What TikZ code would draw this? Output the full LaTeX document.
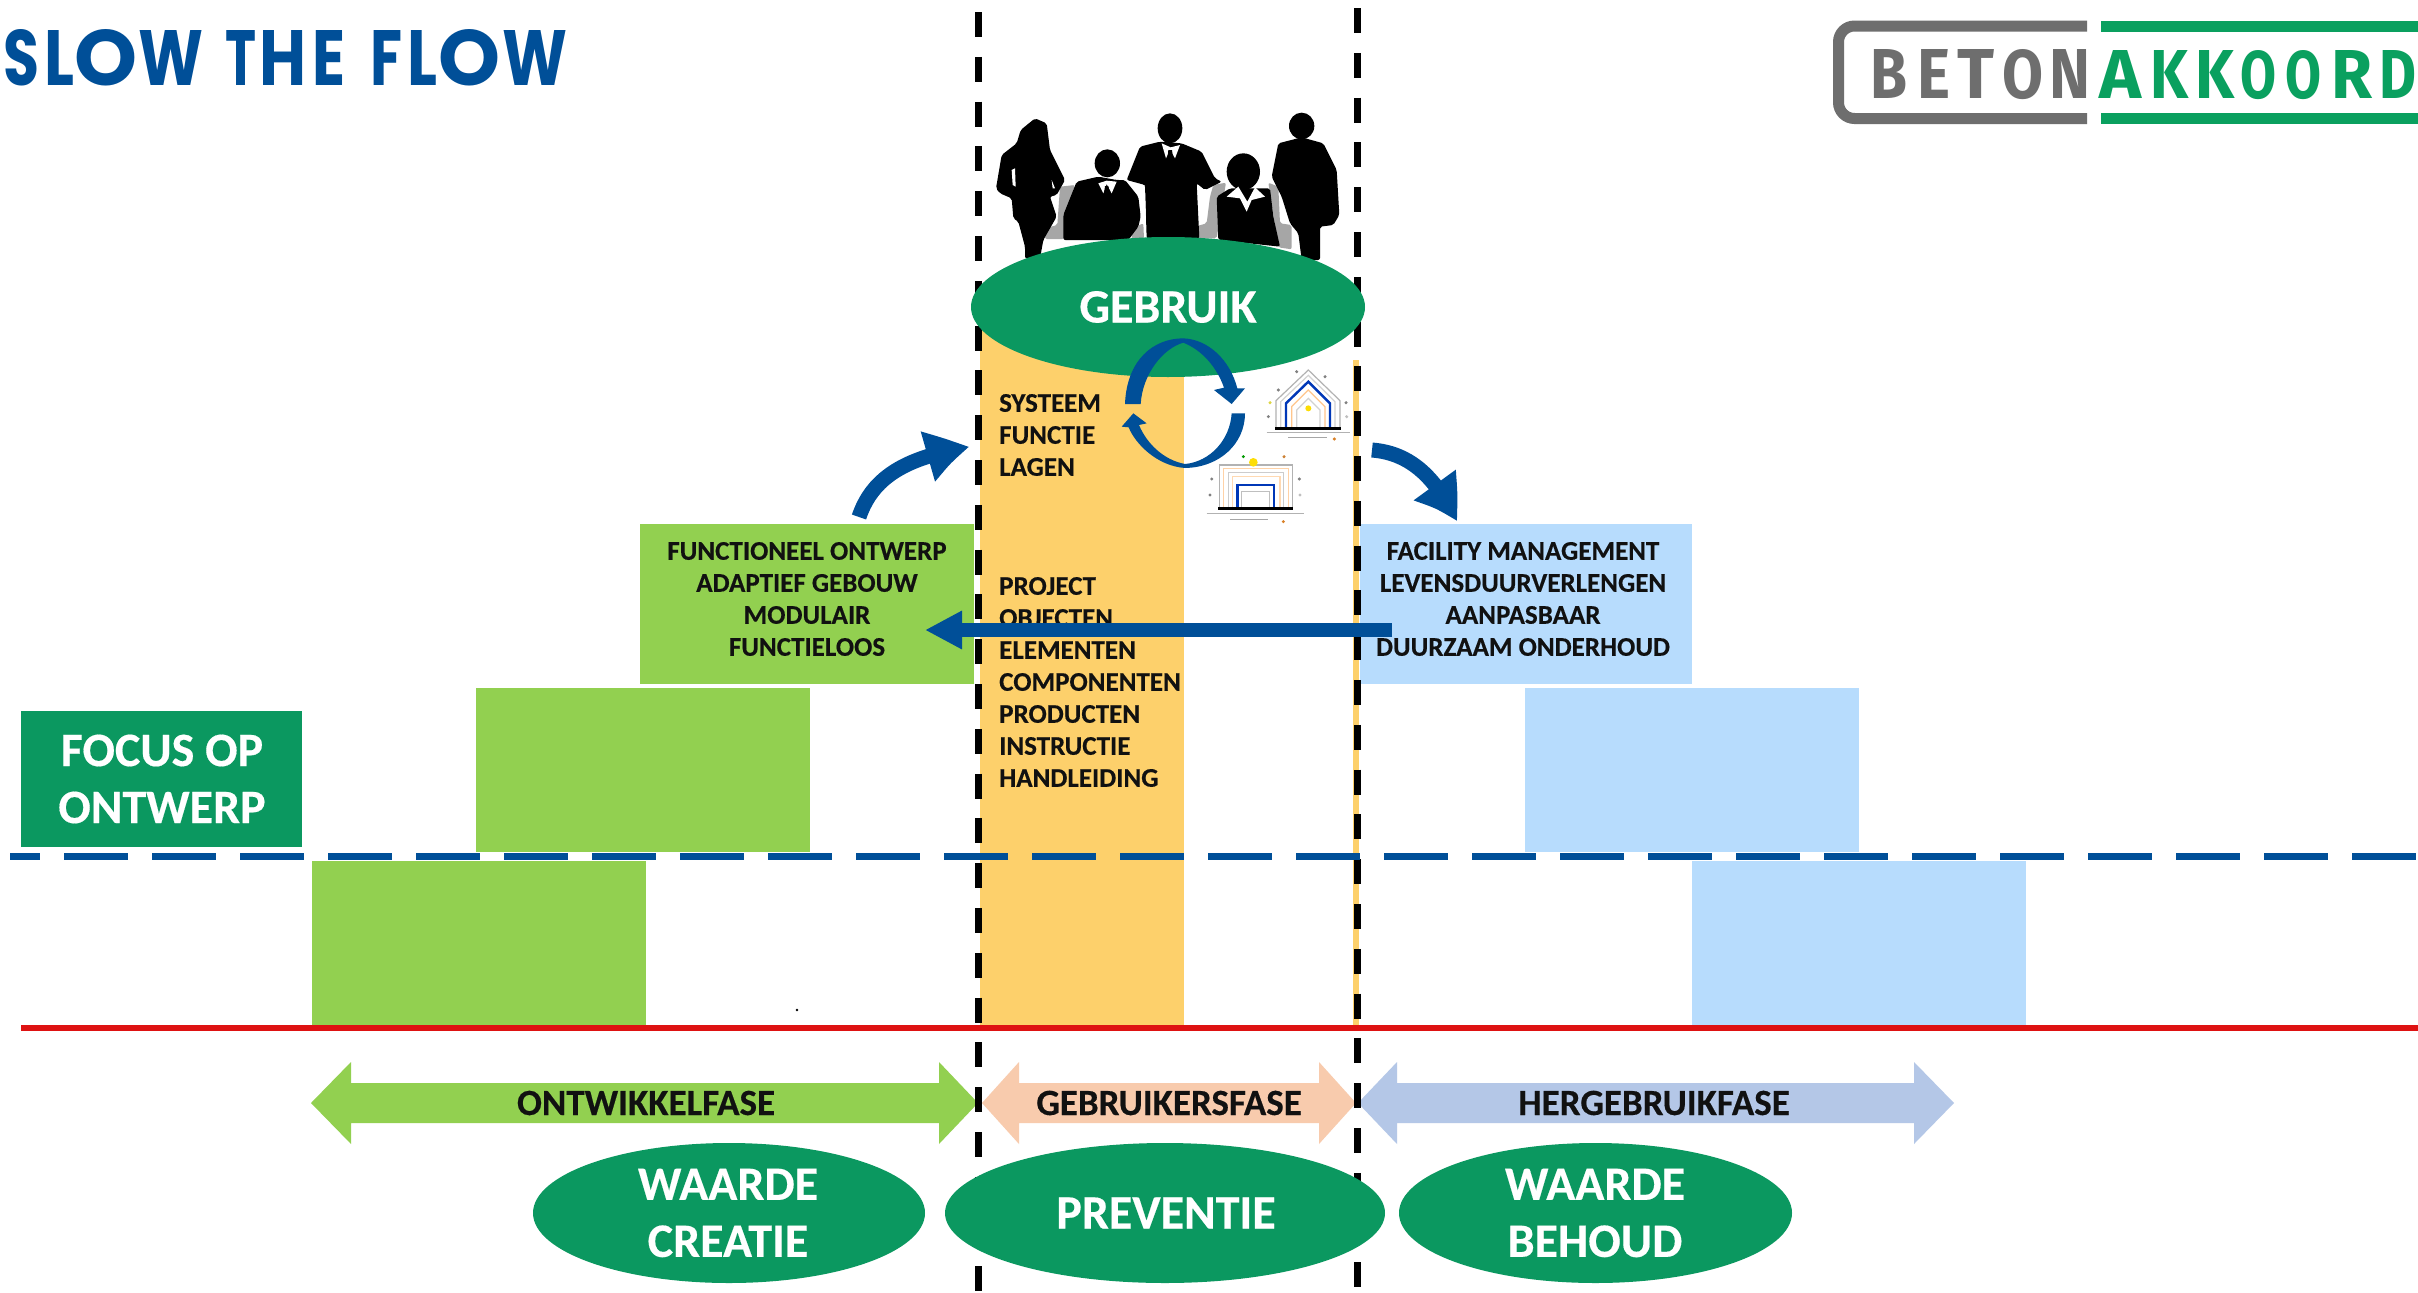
\documentclass[tikz,border=0pt]{standalone}
\usepackage{fontspec}
\setmainfont{Carlito}[BoldFeatures={FakeBold=0.35}]
\newfontfamily\titlefont{Poppins}
\newfontfamily\logofont{Fira Sans}
\usetikzlibrary{arrows.meta,bending,shapes.geometric,calc}
\definecolor{gbox}{HTML}{92D050}
\definecolor{bbox}{HTML}{B7DCFD}
\definecolor{oband}{HTML}{FDD06B}
\definecolor{dgreen}{HTML}{0B9860}
\definecolor{navy}{HTML}{004F98}
\definecolor{logogrey}{HTML}{6E6E6E}
\definecolor{logogreen}{HTML}{0AA05F}
\definecolor{redline}{HTML}{DE1212}
\definecolor{peach}{HTML}{F8CBAD}
\definecolor{lblue}{HTML}{B4C7E7}
\definecolor{inktext}{HTML}{111111}
\newcommand{\glyphbox}[3]{\resizebox{#1pt}{#2pt}{#3}}
\newcommand{\gp}[1]{\hspace*{#1pt}}
\tikzset{
  block/.style={inner sep=0pt,outer sep=0pt,minimum width=334pt},
  greenblock/.style={block,fill=gbox},
  blueblock/.style={block,fill=bbox},
  smalltxt/.style={inner sep=0pt,text=inktext,font=\bfseries\fontsize{27}{32}\selectfont},
  phasetxt/.style={inner sep=0pt,text=inktext,font=\bfseries\fontsize{37}{40}\selectfont},
  bigtxt/.style={inner sep=0pt,text=white,align=center,font=\bfseries\fontsize{48}{57}\selectfont},
  oval/.style={ellipse,fill=dgreen,inner sep=0pt,outer sep=0pt},
  vdash/.style={line width=7pt,black,dash pattern=on 25pt off 19.8pt},
  hdash/.style={line width=7pt,navy,dash pattern=on 64pt off 24pt,dash phase=34pt},
  fatarrow/.style={navy,line width=15pt,-{Triangle[length=46pt,width=47pt,bend]}},
  straightarrow/.style={navy,line width=14pt,-{Triangle[length=37pt,width=36pt]}},
  ring/.style={draw=#1,line width=1.2pt,fill=none},
  sil/.style={fill=black,rounded corners=2pt},
  chair/.style={fill=gray!70,rounded corners=2pt},
}
\begin{document}
\begin{tikzpicture}[x=1pt,y=-1pt]
\useasboundingbox (0,0) rectangle (2418,1293);
\fill[white] (0,0) rectangle (2418,1293);

% title
\node[anchor=base west,inner sep=0pt,text=navy,font=\titlefont\bfseries] (title) at (3,85)
  {\glyphbox{36}{56}{S}\gp{5}\glyphbox{30}{55}{L}\gp{0}\glyphbox{63}{56}{O}\gp{1}\glyphbox{65}{55}{W}\gp{22}\glyphbox{31}{55}{T}\gp{3}\glyphbox{47}{55}{H}\gp{6}\glyphbox{33}{55}{E}\gp{25}\glyphbox{32}{55}{F}\gp{5}\glyphbox{30}{55}{L}\gp{1}\glyphbox{62}{56}{O}\gp{2}\glyphbox{65}{55}{W}};

% logo
\draw[logogrey,line width=11pt,rounded corners=16pt] (2087,26) -- (1838.5,26) -- (1838.5,118.5) -- (2087,118.5);
\fill[logogreen] (2101,20.5) rectangle (2418,31.5);
\fill[logogreen] (2101,113) rectangle (2418,124);
\node[anchor=base west,inner sep=0pt,text=logogrey,font=\logofont\bfseries] (beton) at (1870,98)
  {\glyphbox{37}{49}{B}\gp{10}\glyphbox{33}{49}{E}\gp{7}\glyphbox{37}{49}{T}\gp{8}\glyphbox{41}{49}{O}\gp{6}\glyphbox{41}{49}{N}};
\node[anchor=base west,inner sep=0pt,text=logogreen,font=\logofont\bfseries] (akkoord) at (2099,98)
  {\glyphbox{42}{48}{A}\gp{9}\glyphbox{38}{48}{K}\gp{7}\glyphbox{39}{48}{K}\gp{6}\glyphbox{36}{48}{O}\gp{9}\glyphbox{36}{48}{O}\gp{10}\glyphbox{41}{48}{R}\gp{7}\glyphbox{37}{48}{D}};

% bands
\fill[oband] (980,290) rectangle (1184,1026);
\fill[oband] (1353,360) rectangle (1359,1026);

% blocks
\node[greenblock,minimum height=160pt] (g1) at (807,604) {};
\node[greenblock,minimum height=164pt] (g2) at (643,770) {};
\node[greenblock,minimum height=164pt] (g3) at (479,943) {};
\node[blueblock,minimum height=160pt,minimum width=332pt] (b1) at (1526,604) {};
\node[blueblock,minimum height=164pt] (b2) at (1691.5,770) {};
\node[blueblock,minimum height=164pt] (b3) at (1858.5,943) {};

% separators
\draw[vdash] (978,12) -- (978,1293);
\draw[vdash] (1357,8) -- (1357,1293);
\draw[hdash] (10,856) -- (2418,856);
\draw[redline,line width=6pt] (21,1028) -- (2418,1028);
\fill[black] (797,1010) circle (1.3pt);

% block texts
\node[smalltxt,align=center] (t1) at (807,599) {FUNCTIONEEL ONTWERP\\ADAPTIEF GEBOUW\\MODULAIR\\FUNCTIELOOS};
\node[smalltxt,align=center] (t2) at (1523,599) {FACILITY MANAGEMENT\\LEVENSDUURVERLENGEN\\AANPASBAAR\\DUURZAAM ONDERHOUD};
\node[smalltxt,align=left,anchor=west] (t3) at (999,435) {SYSTEEM\\FUNCTIE\\LAGEN};
\node[smalltxt,align=left,anchor=west] (t4) at (999,682) {PROJECT\\OBJECTEN\\ELEMENTEN\\COMPONENTEN\\PRODUCTEN\\INSTRUCTIE\\HANDLEIDING};

% focus box
\node[fill=dgreen,inner sep=0pt,minimum width=281pt,minimum height=136pt] (focus) at (161.5,779) {};
\node[bigtxt] (focustxt) at (162,779) {FOCUS OP\\ONTWERP};

% long arrow
\coordinate (la1) at (1392,630);
\coordinate (la2) at (925,630);
\draw[straightarrow] (la1) -- (la2);

% curved arrows
\coordinate (ca1) at (859,517);
\coordinate (ca2) at (970,447);
\draw[fatarrow] (ca1) .. controls (872,478) and (905,457) .. (ca2);
\coordinate (cb1) at (1372,450);
\coordinate (cb2) at (1457,522);
\draw[fatarrow] (cb1) .. controls (1410,453) and (1436,477) .. (cb2);

% people
\begin{scope}[shift={(950,90)},x=0.33333pt,y=-0.33333pt]
  % chairs
  \fill[chair] (330,290) -- (375,285) -- (345,380) -- (342,447) -- (285,447) -- (285,415) -- (322,405) -- cycle;
  \fill[chair] (545,447) -- (545,415) -- (580,400) -- (582,447) -- cycle;
  \fill[chair] (780,320) -- (790,285) -- (828,278) -- (800,445) -- (735,445) -- (735,410) -- (770,400) -- cycle;
  \fill[chair] (955,278) -- (985,290) -- (990,400) -- (1025,405) -- (1025,478) -- (985,472) -- cycle;
  % woman left
  \fill[sil] (255,85) -- (290,100) -- (300,180) -- (345,270) -- (320,315) -- (300,320) -- (320,380) -- (280,450) -- (270,505) -- (225,505) -- (225,470) -- (205,395) -- (190,385) -- (185,325) -- (150,310) -- (138,295) -- (155,195) -- (200,160) -- (212,120) -- cycle;
  \fill[white] (185,240) -- (195,235) -- (197,290) -- (188,285) -- cycle;
  \fill[white] (305,270) -- (315,295) -- (308,295) -- cycle;
  % seated man
  \fill[black] (472,220) ellipse (38 and 42);
  \fill[sil] (380,275) -- (445,260) -- (500,270) -- (525,270) -- (565,320) -- (572,380) -- (565,410) -- (535,450) -- (340,450) -- (340,375) -- cycle;
  \fill[white] (445,280) -- (460,310) -- (470,282) -- (485,310) -- (500,275) -- (470,272) -- cycle;
  \fill[black] (465,288) -- (475,288) -- (480,312) -- (470,318) -- (462,312) -- cycle;
  % standing man
  \fill[black] (660,115) ellipse (37 and 45);
  \fill[sil] (530,270) -- (570,170) -- (630,155) -- (695,160) -- (755,185) -- (795,265) -- (815,275) -- (765,300) -- (740,280) -- (748,445) -- (590,445) -- (585,285) -- cycle;
  \fill[white] (635,160) -- (648,205) -- (660,178) -- (675,205) -- (690,165) -- (662,172) -- cycle;
  \fill[black] (655,180) -- (666,180) -- (670,212) -- (660,225) -- (652,212) -- cycle;
  \fill[white] (572,285) -- (584,285) -- (588,400) -- (580,400) -- cycle;
  % seated woman
  \fill[black] (880,245) ellipse (50 and 55);
  \fill[sil] (800,320) -- (840,295) -- (960,295) -- (970,380) -- (990,470) -- (805,450) -- cycle;
  \fill[white] (830,320) -- (865,290) -- (892,335) -- (915,292) -- (945,320) -- (905,330) -- (890,365) -- (870,325) -- cycle;
  % standing man right
  \fill[black] (1055,108) ellipse (38 and 40);
  \fill[sil] (965,260) -- (985,160) -- (1055,142) -- (1120,160) -- (1160,240) -- (1168,375) -- (1150,405) -- (1110,410) -- (1110,510) -- (1055,510) -- (1045,430) -- (1020,400) -- (995,320) -- cycle;

  % houses
  \draw[ring=gray!60] (978,1015) -- (978,932) -- (1075,840) -- (1170,932) -- (1170,1015);
  \draw[ring=gray!35] (992,1012) -- (992,935) -- (1075,856) -- (1155,935) -- (1155,1012);
  \draw[ring=navy!70!blue,line width=2.4pt] (1008,1012) -- (1008,940) -- (1075,875) -- (1140,940) -- (1140,1012);
  \draw[ring=orange!45] (1025,1012) -- (1025,950) -- (1075,900) -- (1125,950) -- (1125,1012);
  \draw[ring=gray!35] (1040,1012) -- (1040,960) -- (1075,925) -- (1110,960) -- (1110,1012);
  \fill[yellow!80!orange] (1075,955) circle (9);
  \draw[black,line width=2.6pt] (975,1015) -- (1172,1015);
  \draw[gray!60,line width=1pt] (950,1026) -- (1200,1026);
  \draw[gray!70,line width=1.2pt] (1015,1043) -- (1130,1043);
  \foreach \px/\py/\pc in {1040/845/gray,1125/860/gray,985/900/gray,960/938/yellow!70!gray,1188/938/gray,955/980/gray,1190/980/gray!50,1153/1047/orange!70!gray}
    \fill[\pc] (\px,\py) circle (5);

  \draw[ring=gray!60] (808,1255) -- (808,1125) -- (1028,1125) -- (1028,1255);
  \draw[ring=orange!35] (820,1255) -- (820,1135) -- (1015,1135) -- (1015,1255);
  \draw[ring=gray!40] (835,1255) -- (835,1147) -- (1000,1147) -- (1000,1255);
  \draw[ring=orange!30] (848,1255) -- (848,1160) -- (990,1160) -- (990,1255);
  \draw[ring=navy!70!blue,line width=2.4pt] (862,1252) -- (862,1185) -- (972,1185) -- (972,1252);
  \draw[ring=gray!50] (875,1252) -- (875,1205) -- (958,1205) -- (958,1252);
  \draw[black,line width=2.6pt] (805,1255) -- (1030,1255);
  \draw[gray!60,line width=1pt] (770,1270) -- (1062,1270);
  \draw[gray!70,line width=1.2pt] (840,1288) -- (955,1288);
  \foreach \px/\py/\pc in {880/1100/green!60!black,1002/1100/orange!60!gray,785/1167/gray,1048/1167/gray,780/1215/gray,1050/1215/gray!50,1000/1295/orange!70!gray}
    \fill[\pc] (\px,\py) circle (5);
  \fill[yellow!80!orange] (910,1117) circle (13);
\end{scope}

% gebruik
\node[oval,minimum width=394pt,minimum height=140pt] (gebruik) at (1168,307) {};
\node[bigtxt] (gebruiktxt) at (1168,307) {GEBRUIK};

% circular arrows
\begin{scope}[shift={(950,90)},x=0.33333pt,y=-0.33333pt]
  \fill[navy] (525,942) .. controls (530,810) and (610,745) .. (700,745)
     .. controls (775,748) and (840,810) .. (862,895) -- (885,895) -- (845,942) -- (792,900) -- (822,893)
     .. controls (800,830) and (755,780) .. (700,758)
     .. controls (640,775) and (578,850) .. (572,942) -- cycle;
  \fill[navy] (885,970) .. controls (885,1060) and (810,1132) .. (705,1134)
     .. controls (620,1128) and (555,1060) .. (536,1012) -- (515,1010) -- (550,970) -- (590,1000) -- (567,1005)
     .. controls (590,1060) and (640,1110) .. (705,1122)
     .. controls (780,1115) and (840,1050) .. (845,970) -- cycle;
\end{scope}

% phase arrows
\fill[gbox] (311,1103) -- (351,1062) -- (351,1083) -- (939,1083) -- (939,1062) -- (978,1103) -- (939,1144) -- (939,1123) -- (351,1123) -- (351,1144) -- cycle;
\fill[peach] (982,1103) -- (1019,1062) -- (1019,1083) -- (1319,1083) -- (1319,1062) -- (1356,1103) -- (1319,1144) -- (1319,1123) -- (1019,1123) -- (1019,1144) -- cycle;
\fill[lblue] (1358,1103) -- (1397,1062) -- (1397,1083) -- (1914,1083) -- (1914,1062) -- (1954,1103) -- (1914,1144) -- (1914,1123) -- (1397,1123) -- (1397,1144) -- cycle;
\draw[vdash] (978,1042.4) -- (978,1146);
\draw[vdash] (1357,1038.4) -- (1357,1146);
\node[phasetxt] (p1) at (646,1103) {ONTWIKKELFASE};
\node[phasetxt] (p2) at (1169,1103) {GEBRUIKERSFASE};
\node[phasetxt] (p3) at (1654,1103) {HERGEBRUIKFASE};

% bottom ovals
\node[oval,minimum width=392pt,minimum height=140pt] (o1) at (729,1213) {};
\node[oval,minimum width=440pt,minimum height=140pt] (o2) at (1165,1213) {};
\node[oval,minimum width=393pt,minimum height=140pt] (o3) at (1595.5,1213) {};
\node[bigtxt] (o1t) at (728,1213) {WAARDE\\CREATIE};
\node[bigtxt] (o2t) at (1166,1213) {PREVENTIE};
\node[bigtxt] (o3t) at (1595,1213) {WAARDE\\BEHOUD};
\end{tikzpicture}
\end{document}
